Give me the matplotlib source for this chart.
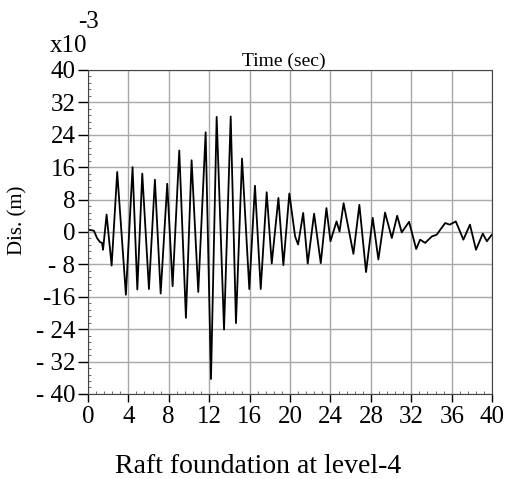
import numpy as np
import matplotlib
matplotlib.use("Agg")
import matplotlib.pyplot as plt

plt.rcParams['font.family'] = ['Liberation Serif', 'DejaVu Serif']

# displacement history (x10^-3 m) at turning points
time_s = [0.2, 0.6, 0.9, 1.2, 1.4, 1.5, 1.85, 2.35, 2.9, 3.76, 4.42, 4.89, 5.38, 6.04,
          6.63, 7.2, 7.85, 8.38, 9.04, 9.7, 10.26, 10.92, 11.65, 12.18, 12.74, 13.47,
          14.13, 14.65, 15.25, 15.97, 16.53, 17.1, 17.69, 18.19, 18.85, 19.34, 19.93,
          20.5, 20.8, 21.3, 21.75, 22.38, 23.04, 23.6, 24.0, 24.6, 24.9, 25.3, 26.27,
          26.86, 27.52, 28.18, 28.74, 29.4, 30.07, 30.6, 31.05, 31.78, 32.48, 32.87,
          33.37, 34.03, 34.5, 35.35, 35.8, 36.4, 37.15, 37.8, 38.4, 39.07, 39.47, 39.96]
disp = [0.5, 0.3, -1.5, -2.5, -2.7, -4.4, 4.3, -8.3, 14.8, -15.5, 16.0, -14.2, 14.4, -14.1,
        12.9, -15.2, 11.9, -13.4, 20.1, -21.2, 17.7, -14.8, 24.6, -36.3, 28.4, -24.1,
        28.5, -22.5, 18.1, -14.1, 11.4, -14.1, 9.8, -7.8, 8.4, -8.2, 9.5,
        -1.1, -3.1, 4.7, -7.8, 4.5, -7.7, 5.9, -2.3, 2.6, 0.1, 7.1, -5.4,
        6.7, -9.9, 3.5, -6.8, 4.8, -1.5, 4.0, -0.1, 2.5, -4.2, -1.9,
        -2.7, -1.1, -0.7, 2.2, 1.8, 2.6, -1.9, 1.8, -4.4, -0.4, -2.3, -0.7]

x_ticks = [0, 4, 8, 12, 16, 20, 24, 28, 32, 36, 40]
y_ticks = [40, 32, 24, 16, 8, 0, -8, -16, -24, -32, -40]
y_labels = ['40', '32', '24', '16', '8', '0', '- 8', '-16', '- 24', '- 32', '- 40']

fig = plt.figure(figsize=(5.17, 4.79), dpi=100)
ax = fig.add_axes([0.170, 0.1775, 0.782, 0.6765])

ax.plot(time_s, disp, color='black', lw=1.3)

ax.set_xlim(0, 40)
ax.set_ylim(-40, 40)
ax.set_xticks(x_ticks)
ax.set_yticks(y_ticks)
ax.set_yticklabels(y_labels)
ax.set_xticks(np.arange(0, 40.01, 0.8), minor=True)
ax.set_yticks(np.arange(-40, 40.01, 1.6), minor=True)
ax.grid(True, which='major', color='#a8a8a8', lw=1.0)
ax.tick_params(which='major', direction='out', length=7, width=1, labelsize=18, pad=2)
ax.tick_params(axis='x', which='major', length=6, pad=3)
ax.tick_params(which='minor', direction='in', length=2.5, width=0.6, color='#555555')
for s in ax.spines.values():
    s.set_color('#444444')

ax.text(0.485, 1.012, 'Time (sec)', transform=ax.transAxes, ha='center', va='baseline', fontsize=14)
ax.text(-0.172, 0.535, 'Dis. (m)', transform=ax.transAxes, rotation=90, ha='center', va='center', fontsize=15)

fig.text(0.097, 0.891, 'x10', fontsize=18, ha='left', va='baseline')
fig.text(0.151, 0.942, '-3', fontsize=18, ha='left', va='baseline')
fig.text(0.499, 0.0125, 'Raft foundation at level-4', fontsize=20, ha='center', va='baseline')

fig.savefig('out.png', dpi=100)
